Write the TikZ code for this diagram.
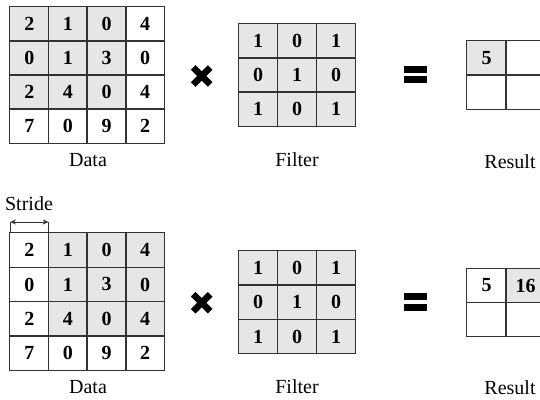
\documentclass[tikz,border=0pt]{standalone}
\usepackage{fontspec}
\setmainfont{Liberation Serif}
\usetikzlibrary{arrows.meta}
\definecolor{gridline}{HTML}{333333}
\definecolor{cellgray}{HTML}{E6E6E6}
\begin{document}
\begin{tikzpicture}[x=1pt,y=-1pt,
  cell/.style={minimum width=38.8pt, minimum height=34.2pt, inner sep=0pt,
    font=\fontsize{20}{20}\selectfont\bfseries},
  border/.style={draw=gridline, line width=1.1pt},
  caption/.style={font=\fontsize{20}{20}\selectfont, anchor=base, inner sep=0pt},
  crossmark/.pic={\draw[line width=6.5pt] (-8.5,-8.5) -- (8.5,8.5)
                                          (-8.5,8.5) -- (8.5,-8.5);},
  equalmark/.pic={\fill (-11.4,-8.6) rectangle (11.4,-1.6);
                  \fill (-11.4,1.6) rectangle (11.4,8.6);},
]
\useasboundingbox (0,0) rectangle (540,399);

% ---------- first step ----------
% input data, the 3x3 window at the top left is shaded
\foreach \row [count=\i] in {{2,1,0,4},{0,1,3,0},{2,4,0,4},{7,0,9,2}} {
  \foreach \v [count=\j] in \row {
    \pgfmathtruncatemacro\sh{(\i<4)&&(\j<4)}
    \ifnum\sh=1 \def\fc{cellgray}\else\def\fc{white}\fi
    \node[cell, fill=\fc] (da-\i-\j) at ({10+(\j-0.5)*38.6},{7+(\i-0.5)*34}) {\v};
  }
}
\foreach \i in {1,...,4} \foreach \j in {1,...,4}
  \draw[border] (da-\i-\j.south west) rectangle (da-\i-\j.north east);
\node[caption] (dataA) at (88,166.5) {Data};

\pic at (201.7,76) {crossmark};

% filter
\foreach \row [count=\i] in {{1,0,1},{0,1,0},{1,0,1}} {
  \foreach \v [count=\j] in \row {
    \node[cell, fill=cellgray] (fa-\i-\j) at ({238.5+(\j-0.5)*39},{24+(\i-0.5)*34}) {\v};
  }
}
\foreach \i in {1,...,3} \foreach \j in {1,...,3}
  \draw[border] (fa-\i-\j.south west) rectangle (fa-\i-\j.north east);
\node[caption] (filterA) at (297,166.5) {Filter};

\pic at (415.3,74.7) {equalmark};

% result
\node[cell, fill=cellgray] (ra-1-1) at (486.5,58) {5};
\node[cell] (ra-1-2) at (525.5,58) {};
\node[cell] (ra-2-1) at (486.5,92) {};
\node[cell] (ra-2-2) at (525.5,92) {};
\foreach \i in {1,2} \foreach \j in {1,2}
  \draw[border] (ra-\i-\j.south west) rectangle (ra-\i-\j.north east);
\node[caption] (resultA) at (510,168) {Result};

% ---------- second step ----------
\node[caption] (stride) at (29,210.5) {Stride};

\foreach \row [count=\i] in {{2,1,0,4},{0,1,3,0},{2,4,0,4},{7,0,9,2}} {
  \foreach \v [count=\j] in \row {
    \pgfmathtruncatemacro\sh{(\i<4)&&(\j>1)}
    \ifnum\sh=1 \def\fc{cellgray}\else\def\fc{white}\fi
    \node[cell, fill=\fc] (db-\i-\j) at ({10+(\j-0.5)*38.6},{233+(\i-0.5)*34.3}) {\v};
  }
}
\foreach \i in {1,...,4} \foreach \j in {1,...,4}
  \draw[border] (db-\i-\j.south west) rectangle (db-\i-\j.north east);
\node[caption] (dataB) at (88,393) {Data};

% stride marker: one column step
\coordinate (sa) at (10,222);
\coordinate (sb) at (48.6,222);
\draw[gridline, line width=0.9pt] (sa) -- (sa |- db-1-1.north);
\draw[gridline, line width=0.9pt] (sb) -- (sb |- db-1-2.north);
\draw[gridline, line width=0.9pt, {Stealth[length=6pt,width=5pt]}-{Stealth[length=6pt,width=5pt]}] (sa) -- (sb);

\pic at (201.7,302.7) {crossmark};

\foreach \row [count=\i] in {{1,0,1},{0,1,0},{1,0,1}} {
  \foreach \v [count=\j] in \row {
    \node[cell, fill=cellgray] (fb-\i-\j) at ({238.5+(\j-0.5)*39},{251+(\i-0.5)*34.2}) {\v};
  }
}
\foreach \i in {1,...,3} \foreach \j in {1,...,3}
  \draw[border] (fb-\i-\j.south west) rectangle (fb-\i-\j.north east);
\node[caption] (filterB) at (297,393) {Filter};

\pic at (415.3,302) {equalmark};

\node[cell] (rb-1-1) at (486.5,285.5) {5};
\node[cell, fill=cellgray] (rb-1-2) at (525.5,285.5) {16};
\node[cell] (rb-2-1) at (486.5,319.5) {};
\node[cell] (rb-2-2) at (525.5,319.5) {};
\foreach \i in {1,2} \foreach \j in {1,2}
  \draw[border] (rb-\i-\j.south west) rectangle (rb-\i-\j.north east);
\node[caption] (resultB) at (510,394) {Result};
\end{tikzpicture}
\end{document}
